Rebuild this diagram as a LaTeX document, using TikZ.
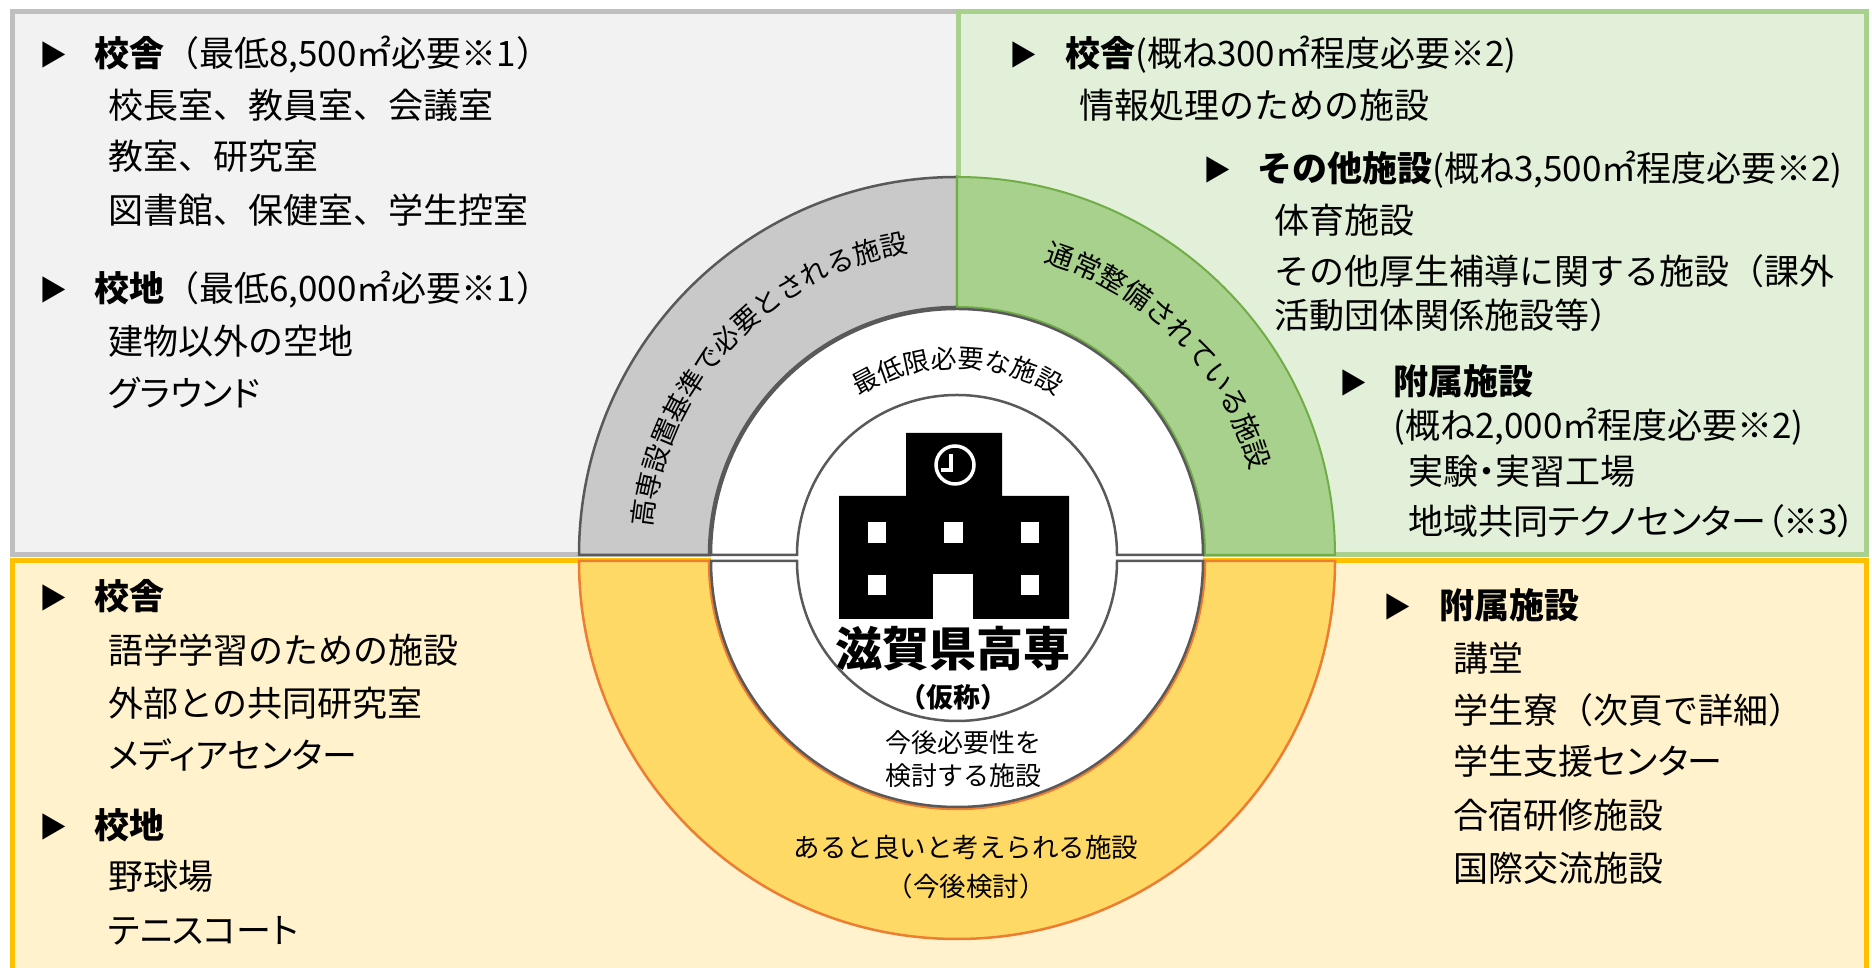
\documentclass[tikz,border=0pt]{standalone}
\usepackage{fontspec}
\setmainfont{Noto Sans CJK JP}
\newfontfamily\kanafont{Noto Sans CJK JP}[RawFeature=+palt]
\usepackage{tikz}
\usetikzlibrary{decorations.text}

\definecolor{panelgrey}{HTML}{F2F2F2}
\definecolor{bordergrey}{HTML}{BFBFBF}
\definecolor{panelgreen}{HTML}{E2F0D9}
\definecolor{bordergreen}{HTML}{A9D18E}
\definecolor{panelyellow}{HTML}{FFF2CC}
\definecolor{borderyellow}{HTML}{FFC000}
\definecolor{ringgrey}{HTML}{C9C9C9}
\definecolor{ringgreen}{HTML}{A9D18E}
\definecolor{ringyellow}{HTML}{FFD966}
\definecolor{edgegrey}{HTML}{595959}
\definecolor{edgegreen}{HTML}{70AD47}
\definecolor{edgeorange}{HTML}{ED7D31}

\begin{document}
\begin{tikzpicture}[x=1pt,y=1pt,
    entry/.style={anchor=west,inner sep=0pt,text height=28pt,text depth=4pt,font=\fontsize{35}{42}\selectfont},
    kana/.style={entry,font=\kanafont\fontsize{35}{42}\selectfont},
    tri/.style={inner sep=0pt,font=\fontsize{28}{28}\selectfont}]
    \useasboundingbox (0,0) rectangle (1872,968);
    % panels
    \filldraw[fill=panelgrey,draw=bordergrey,line width=5] (12,413) rectangle (958,956);
    \filldraw[fill=panelgreen,draw=bordergreen,line width=5] (958,413) rectangle (1866,956);
    \filldraw[fill=panelyellow,draw=borderyellow,line width=5] (12,-20) rectangle (1866,407);
    % ring
    \filldraw[fill=ringgrey,draw=edgegrey,line width=2.5] (579,413) arc[start angle=180,end angle=90,radius=378] -- (957,661) arc[start angle=90,end angle=180,radius=248] -- cycle;
    \filldraw[fill=ringgreen,draw=edgegreen,line width=2] (1335,413) arc[start angle=0,end angle=90,radius=378] -- (957,661) arc[start angle=90,end angle=0,radius=248] -- cycle;
    \filldraw[fill=ringyellow,draw=edgeorange,line width=2.5] (579,407) arc[start angle=180,end angle=360,radius=378] -- (1205,407) arc[start angle=0,end angle=-180,radius=248] -- cycle;
    \fill[white] (711,413) arc[start angle=180,end angle=0,radius=246] -- cycle;
    \fill[white] (711,407) arc[start angle=180,end angle=360,radius=246] -- cycle;
    \fill[white] (711,407) rectangle (1203,413);
    \draw[edgegrey,line width=2.5] (711,413) arc[start angle=180,end angle=0,radius=246] -- (1117,413) arc[start angle=0,end angle=180,radius=160] -- cycle;
    \draw[edgegrey,line width=2.5] (711,407) arc[start angle=180,end angle=360,radius=246] -- (1117,407) arc[start angle=360,end angle=180,radius=160] -- cycle;
    % building
    \fill[black] (839,349) -- (839,472) -- (906,472) -- (906,535) -- (1002,535) -- (1002,472) -- (1069,472) -- (1069,349) -- cycle;
    \fill[white] (933,349) rectangle (973,394);
    \fill[white] (868,425) rectangle (886,446);
    \fill[white] (944,425) rectangle (963,446);
    \fill[white] (1021,425) rectangle (1039,446);
    \fill[white] (868,373) rectangle (886,393);
    \fill[white] (1021,373) rectangle (1039,393);
    \draw[white,line width=3.5] (955,503) circle[radius=19];
    \draw[white,line width=4] (951,514) -- (951,498) -- (941,498);
    % ring texts
    \path[decorate,decoration={text along path,text align=center,
        text={|\fontsize{27}{27}\selectfont|高専設置基準で必要とされる施設}}]
        (651.0,402.3) arc[start angle=182,end angle=92,radius=306];
    \path[decorate,decoration={text along path,text align=center,
        text={|\fontsize{28}{28}\selectfont|通常整備されている施設}}]
        (958.6,719.0) arc[start angle=89.7,end angle=-0.3,radius=306];
    \path[decorate,decoration={text along path,text align=center,
        text={|\fontsize{26}{26}\selectfont|最低限必要な施設}}]
        (824.8,545.2) arc[start angle=135,end angle=45,radius=187];
    \node[font=\bfseries\fontsize{47}{47}\selectfont] (SN) at (953,319) {滋賀県高専};
    \node[font=\bfseries\fontsize{27}{27}\selectfont] (SK) at (953,271) {（仮称）};
    \node[align=center,font=\fontsize{26}{33}\selectfont] (SA) at (963,209) {今後必要性を\\検討する施設};
    \node[align=center,font=\fontsize{26.5}{39}\selectfont] (SB) at (966,101) {あると良いと考えられる施設\\（今後検討）};
    % top left
    \node[tri] (TA) at (53,913) {▶};
    \node[entry] (TB) at (94,913) {\textbf{校舎}（最低8,500㎡必要※1）};
    \node[entry] (TC) at (108,861) {校長室、教員室、会議室};
    \node[entry] (TD) at (108,810) {教室、研究室};
    \node[entry] (TE) at (108,756) {図書館、保健室、学生控室};
    \node[tri] (TF) at (53,678) {▶};
    \node[entry] (TG) at (94,678) {\textbf{校地}（最低6,000㎡必要※1）};
    \node[entry] (TH) at (108,625) {建物以外の空地};
    \node[kana] (TI) at (108,573) {グラウンド};
    % top right
    \node[tri] (RA) at (1023,913) {▶};
    \node[entry] (RB) at (1065,913) {\textbf{校舎}(概ね300㎡程度必要※2)};
    \node[entry] (RC) at (1079,861) {情報処理のための施設};
    \node[tri] (RD) at (1217,798) {▶};
    \node[entry] (RE) at (1257,798) {\textbf{その他施設}(概ね3,500㎡程度必要※2)};
    \node[entry] (RF) at (1274,746) {体育施設};
    \node[entry] (RG) at (1274,695) {その他厚生補導に関する施設（課外};
    \node[entry] (RH) at (1274,651) {活動団体関係施設等）};
    \node[tri] (RI) at (1353,585) {▶};
    \node[entry] (RJ) at (1393,585) {\textbf{附属施設}};
    \node[entry] (RK) at (1393,541) {(概ね2,000㎡程度必要※2)};
    \node[kana] (RL) at (1408,495) {実験・実習工場};
    \node[kana] (RM) at (1408,445) {地域共同テクノセンター（※3）};
    % bottom left
    \node[tri] (BA) at (53,370) {▶};
    \node[entry] (BB) at (94,370) {\textbf{校舎}};
    \node[entry] (BC) at (108,316) {語学学習のための施設};
    \node[entry] (BD) at (108,263) {外部との共同研究室};
    \node[kana] (BE) at (108,211) {メディアセンター};
    \node[tri] (BF) at (53,141) {▶};
    \node[entry] (BG) at (94,141) {\textbf{校地}};
    \node[entry] (BH) at (108,90) {野球場};
    \node[kana] (BI) at (108,36) {テニスコート};
    % bottom right
    \node[tri] (CA) at (1397,361) {▶};
    \node[entry] (CB) at (1439,361) {\textbf{附属施設}};
    \node[entry] (CC) at (1453,308) {講堂};
    \node[entry] (CD) at (1453,256) {学生寮（次頁で詳細）};
    \node[kana] (CE) at (1453,205) {学生支援センター};
    \node[entry] (CF) at (1453,151) {合宿研修施設};
    \node[entry] (CG) at (1453,98) {国際交流施設};
\end{tikzpicture}
\end{document}
